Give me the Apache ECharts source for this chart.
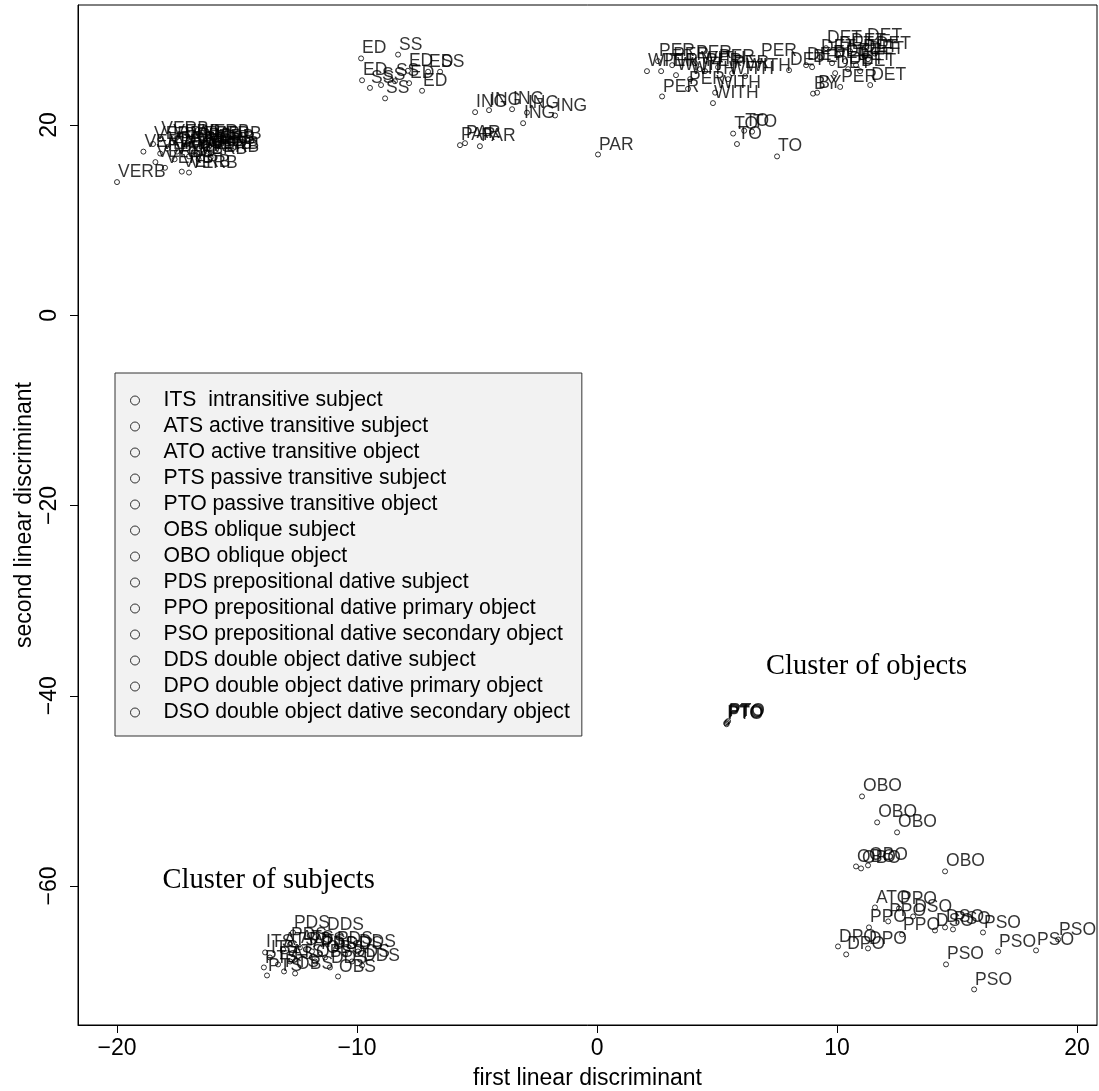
<!DOCTYPE html>
<html>
<head>
<meta charset="utf-8">
<script src="https://cdn.jsdelivr.net/npm/echarts@6/dist/echarts.min.js"></script>
<style>
  html, body { margin: 0; padding: 0; background: #ffffff; }
  #chart { width: 1099px; height: 1091px; }
</style>
</head>
<body>
<div id="chart"></div>
<script>
// Scores on the first two linear discriminants, one list per label.
const VERB = [[-20.0,14.0],[-18.9,17.2],[-18.5,18.0],[-18.4,16.1],[-18.2,17.0],[-18.0,15.5],[-17.9,17.5],[-17.7,18.2],[-17.6,16.4],[-17.5,17.2],[-17.3,15.1],[-17.2,17.8],[-17.0,16.7],[-17.0,15.0],[-16.9,18.0],[-16.75,17.3],[-16.6,16.4],[-16.5,18.2],[-16.4,17.0],[-16.25,17.5],[-16.1,16.6],[-16.0,18.0],[-16.3,17.7],[-16.1,17.0],[-18.2,18.5]];
const ED = [[-9.83,27.0],[-9.79,24.7],[-7.88,25.7],[-7.83,24.4],[-7.29,23.6],[-7.04,25.6]];
const SS = [[-8.29,27.4],[-9.46,23.9],[-9.0,24.2],[-8.83,22.8],[-8.42,24.6],[-6.54,25.6]];
const ING = [[-5.08,21.35],[-4.5,21.56],[-3.54,21.66],[-3.08,20.19],[-2.92,21.3],[-1.75,21.0]];
const PAR = [[-5.71,17.88],[-5.5,18.09],[-4.88,17.77],[0.04,16.9]];
const PER = [[2.54,26.71],[2.67,25.66],[2.71,23.0],[3.13,26.29],[3.79,23.8],[4.08,26.5],[4.5,25.66],[5.04,26.08],[5.63,25.45],[6.79,26.71],[10.13,24.0]];
const WITH = [[2.08,25.66],[3.29,25.24],[3.88,24.82],[4.29,25.87],[4.92,23.4],[4.83,22.3],[5.46,24.82],[6.17,25.13]];
const TO = [[5.67,19.1],[5.83,18.0],[6.13,19.4],[6.46,19.3],[7.5,16.7]];
const DET = [[8.0,25.76],[8.71,26.29],[8.96,26.08],[9.29,27.13],[9.54,28.08],[9.79,26.5],[10.04,27.44],[10.33,26.71],[10.54,27.76],[10.79,26.29],[11.04,27.13],[11.21,28.29],[11.29,26.92],[11.38,24.2],[10.96,25.66],[10.46,25.87],[9.92,25.45],[11.58,27.5]];
const BY = [[9.0,23.3],[9.17,23.4]];
const ITS = [[-13.83,-66.98],[-13.63,-67.51]];
const ATS = [[-13.08,-66.67],[-12.38,-66.46],[-11.88,-66.88],[-12.79,-67.93]];
const PTS = [[-13.88,-68.56],[-13.75,-69.4],[-13.04,-68.98],[-13.29,-68.24]];
const OBS = [[-12.58,-69.19],[-10.79,-69.51],[-11.75,-67.93],[-11.33,-67.51]];
const PDS = [[-12.67,-64.88],[-10.88,-66.56],[-12.79,-66.14],[-12.04,-66.67],[-11.54,-67.19]];
const DDS = [[-11.29,-65.09],[-9.79,-68.35],[-10.5,-67.19],[-10.21,-67.93],[-11.13,-68.56],[-9.96,-66.88]];
const PTO = [[5.38,-42.88],[5.42,-42.78],[5.46,-42.67],[5.4,-42.99]];
const ATO = [[11.58,-62.25]];
const OBO = [[11.04,-50.58],[11.67,-53.31],[12.5,-54.36],[10.79,-57.94],[11.0,-58.15],[11.29,-57.83],[14.5,-58.46]];
const PPO = [[12.58,-62.36],[11.33,-64.35],[12.13,-63.72],[12.71,-65.09]];
const PSO = [[14.83,-64.56],[16.08,-64.88],[14.54,-68.24],[16.71,-66.88],[18.29,-66.77],[19.21,-65.62],[15.71,-70.87]];
const DPO = [[10.04,-66.35],[10.38,-67.19],[11.29,-66.56]];
const DSO = [[13.17,-63.2],[14.08,-64.67],[14.5,-64.35]];

const xTicks = [-20, -10, 0, 10, 20];
const yTicks = [-60, -40, -20, 0, 20];

const legendCodes = ['ITS','ATS','ATO','PTS','PTO','OBS','OBO','PDS','PPO','PSO','DDS','DPO','DSO'];
const legendLines = [
  'ITS  intransitive subject',
  'ATS active transitive subject',
  'ATO active transitive object',
  'PTS passive transitive subject',
  'PTO passive transitive object',
  'OBS oblique subject',
  'OBO oblique object',
  'PDS prepositional dative subject',
  'PPO prepositional dative primary object',
  'PSO prepositional dative secondary object',
  'DDS double object dative subject',
  'DPO double object dative primary object',
  'DSO double object dative secondary object'
];

const groups = [
  ['VERB', VERB], ['ED', ED], ['SS', SS], ['ING', ING], ['PAR', PAR],
  ['PER', PER], ['WITH', WITH], ['TO', TO], ['DET', DET], ['BY', BY],
  ['ITS', ITS], ['ATS', ATS], ['PTS', PTS], ['OBS', OBS], ['PDS', PDS], ['DDS', DDS],
  ['PTO', PTO], ['ATO', ATO], ['OBO', OBO], ['PPO', PPO], ['PSO', PSO], ['DPO', DPO], ['DSO', DSO]
];

const SANS = '"Liberation Sans", Arial, sans-serif';
const SERIF = '"Liberation Serif", "Times New Roman", serif';
const minusSign = v => String(v).replace('-', '\u2212');

const chart = echarts.init(document.getElementById('chart'), null, { renderer: 'canvas' });

const series = groups.map(([name, pts]) => ({
  type: 'scatter',
  name: name,
  data: pts,
  symbol: 'circle',
  symbolSize: 5,
  silent: true,
  animation: false,
  itemStyle: { color: 'rgba(0,0,0,0)', borderColor: '#000', borderWidth: 1 },
  emphasis: { disabled: true },
  label: {
    show: true,
    formatter: name,
    position: [4, 2],
    align: 'left',
    verticalAlign: 'bottom',
    color: '#000',
    fontFamily: SANS,
    fontSize: 17.5,
    lineHeight: 17.5
  }
}));

chart.setOption({
  animation: false,
  backgroundColor: '#ffffff',
  grid: {
    left: 78, right: 2, top: 5, bottom: 66,
    outerBoundsMode: 'none', containLabel: false,
    show: true, borderColor: '#000', borderWidth: 1, backgroundColor: 'transparent'
  },
  xAxis: {
    type: 'value', min: -21.625, max: 20.83,
    name: 'first linear discriminant', nameLocation: 'middle', nameGap: 42, nameMoveOverlap: false,
    nameTextStyle: { fontFamily: SANS, fontSize: 23, color: '#000' },
    axisLine: { show: true, onZero: false, lineStyle: { color: '#000', width: 1 } },
    axisTick: { show: true, length: 8, inside: false, customValues: xTicks, lineStyle: { color: '#000', width: 1 } },
    axisLabel: { customValues: xTicks, margin: 12, fontFamily: SANS, fontSize: 23, color: '#000', formatter: minusSign },
    splitLine: { show: false }
  },
  yAxis: {
    type: 'value', min: -74.61, max: 32.615,
    name: 'second linear discriminant', nameLocation: 'middle', nameGap: 42, nameRotate: 90, nameMoveOverlap: false,
    nameTextStyle: { fontFamily: SANS, fontSize: 23, color: '#000' },
    axisLine: { show: true, onZero: false, lineStyle: { color: '#000', width: 1 } },
    axisTick: { show: true, length: 8, inside: false, customValues: yTicks, lineStyle: { color: '#000', width: 1 } },
    axisLabel: { customValues: yTicks, rotate: 90, margin: 17, fontFamily: SANS, fontSize: 23, color: '#000', formatter: minusSign },
    splitLine: { show: false }
  },
  legend: {
    orient: 'vertical', left: 115, top: 373,
    data: legendCodes, selectedMode: false,
    icon: 'circle', itemWidth: 25, itemHeight: 9, itemGap: 5,
    padding: [17, 12, 13, 15],
    backgroundColor: '#f2f2f2', borderColor: '#333', borderWidth: 1, borderRadius: 0,
    itemStyle: { color: 'rgba(0,0,0,0)', borderColor: '#000', borderWidth: 1 },
    textStyle: { fontFamily: SANS, fontSize: 21.2, lineHeight: 21, color: '#000', padding: [0, 0, 0, 11] },
    formatter: n => legendLines[legendCodes.indexOf(n)]
  },
  series: series
});

// Cluster captions, anchored in data units at the bottom-left of each caption
const captions = [
  { text: 'Cluster of objects', at: [7.04, -38.4] },
  { text: 'Cluster of subjects', at: [-18.1, -60.9] }
];
chart.setOption({
  graphic: captions.map(c => {
    const p = chart.convertToPixel({ gridIndex: 0 }, c.at);
    return {
      type: 'text', x: p[0], y: p[1], silent: true,
      style: { text: c.text, fontFamily: SERIF, fontSize: 28.5, fill: '#000', align: 'left', verticalAlign: 'bottom' }
    };
  })
});
</script>
</body>
</html>
